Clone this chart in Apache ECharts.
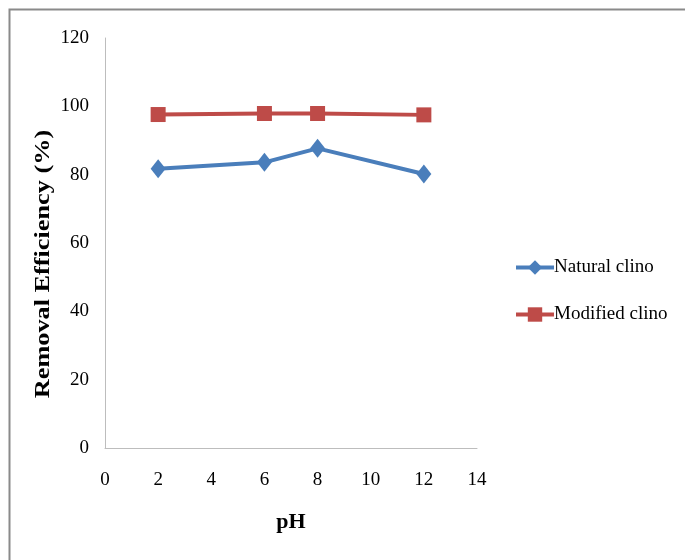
<!DOCTYPE html>
<html><head><meta charset="utf-8">
<script src="https://cdn.jsdelivr.net/npm/echarts@6/dist/echarts.min.js"></script>
<style>html,body{margin:0;padding:0;background:#fff}#c{width:685px;height:560px}</style>
</head><body><div id="c"></div>
<script>
const phValues = [2, 6, 8, 12];
const naturalClino = [81.7, 83.6, 87.7, 80.2];
const modifiedClino = [97.6, 97.9, 97.9, 97.5];
const xTicks = [0, 2, 4, 6, 8, 10, 12, 14];
const yTicks = [0, 20, 40, 60, 80, 100, 120];
const yTitle = 'Removal Efficiency (%)';
const xTitle = 'pH';

const chart = echarts.init(document.getElementById('c'));
const font = '"Liberation Serif", "Times New Roman", serif';
chart.setOption({
  animation: false,
  backgroundColor: '#fff',
  graphic: [{
    type: 'rect', shape: {x: 9.5, y: 9.5, width: 700, height: 600},
    style: {fill: 'none', stroke: '#8a8a8a', lineWidth: 2}, silent: true
  }, {
    type: 'text', x: 44, y: 264, rotation: Math.PI / 2, scaleX: 1.25, silent: true,
    style: {text: yTitle, font: 'bold 21px ' + font, fill: '#000', align: 'center', verticalAlign: 'middle'}
  }],
  grid: {left: 105, right: 208, top: 38, bottom: 112},
  legend: {
    orient: 'vertical', left: 509, top: 253, itemWidth: 38, itemHeight: 18, itemGap: 28,
    lineStyle: {width: 4},
    textStyle: {fontFamily: font, fontSize: 19, color: '#000', padding: [0, 0, 0, -5]},
    data: ['Natural clino', 'Modified clino']
  },
  xAxis: {
    type: 'value', min: 0, max: 14, interval: 2,
    name: xTitle, nameLocation: 'middle', nameGap: 63,
    nameTextStyle: {fontFamily: font, fontSize: 22, fontWeight: 'bold', color: '#000'},
    axisLine: {show: true, lineStyle: {color: '#bdbdbd', width: 1}},
    axisTick: {show: false}, splitLine: {show: false},
    axisLabel: {fontFamily: font, fontSize: 19, color: '#000', margin: 23,
      formatter: v => xTicks.includes(v) ? String(v) : ''}
  },
  yAxis: {
    type: 'value', min: 0, max: 120, interval: 20,
    axisLine: {show: true, lineStyle: {color: '#bdbdbd', width: 1}},
    axisTick: {show: false}, splitLine: {show: false},
    axisLabel: {fontFamily: font, fontSize: 19, color: '#000', margin: 16,
      formatter: v => yTicks.includes(v) ? String(v) : ''}
  },
  series: [
    {
      name: 'Natural clino', type: 'line',
      data: phValues.map((x, i) => [x, naturalClino[i]]),
      symbol: 'diamond', symbolSize: [15, 19],
      lineStyle: {color: '#4a7ebb', width: 4},
      itemStyle: {color: '#4a7ebb'}
    },
    {
      name: 'Modified clino', type: 'line',
      data: phValues.map((x, i) => [x, modifiedClino[i]]),
      symbol: 'rect', symbolSize: 15,
      lineStyle: {color: '#be4b48', width: 4},
      itemStyle: {color: '#be4b48'}
    }
  ]
});
</script></body></html>
